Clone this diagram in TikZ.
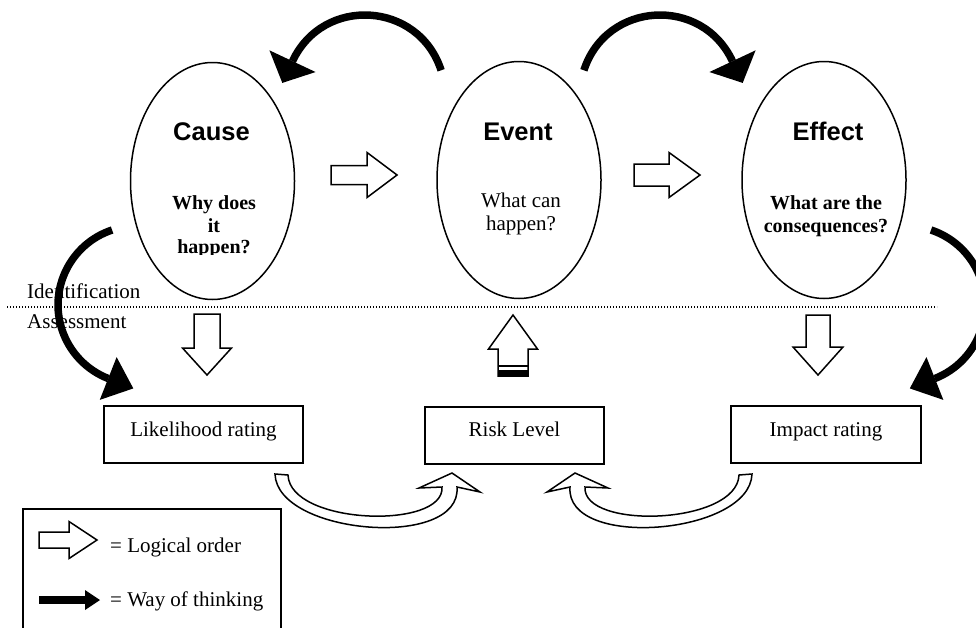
\documentclass[tikz,border=0pt]{standalone}
\usepackage{fontspec}
\setmainfont{Liberation Serif}
\newfontfamily\headsans{Liberation Sans}
\usetikzlibrary{arrows.meta,shapes.geometric}

\begin{document}
\begin{tikzpicture}[x=1pt,y=1pt,
  phase/.style={draw,line width=1.5pt,ellipse,minimum width=164pt,minimum height=237pt,inner sep=0pt},
  rating/.style={draw,line width=2pt,minimum height=57pt,inner sep=0pt},
  title/.style={font=\headsans\bfseries\fontsize{25.5}{30}\selectfont,anchor=base,inner sep=0pt},
  question/.style={font=\bfseries\fontsize{20}{23}\selectfont,anchor=base,inner sep=0pt},
  plain/.style={font=\fontsize{21}{25}\selectfont,anchor=base,inner sep=0pt},
  hollow/.style={draw,line width=1.5pt,fill=white,line join=miter},
  thinkarrow/.style 2 args={line width=7.5pt,-{Triangle[width=#1,length=#2,line width=0pt]}},
  divider/.style={line width=1.2pt,dash pattern=on 1.2pt off 1.8pt},
  pics/hollowarrow/.style n args={4}{code={
    \draw[hollow] (0,-#3) -- ({#1-#2},-#3) -- ({#1-#2},-#4) -- (#1,0)
      -- ({#1-#2},#4) -- ({#1-#2},#3) -- (0,#3) -- cycle;}}
]
\useasboundingbox (0,0) rectangle (976,-627);

% --- the three phases ---
\node[phase] (cause)  at (212.5,-181) {};
\node[phase] (event)  at (519,-180) {};
\node[phase] (effect) at (824,-180) {};

\node[title] (causeT)  at (211.5,-140) {Cause};
\node[title] (eventT)  at (518,-140) {Event};
\node[title] (effectT) at (828,-140) {Effect};

\node[question] (causeQ1) at (214,-209) {Why does};
\node[question] (causeQ2) at (214,-232) {it};
\begin{scope}
  \clip (150,-200) rectangle (280,-254);
  \node[question] (causeQ3) at (214,-253) {happen?};
\end{scope}

\node[plain] (eventQ1) at (521,-207) {What can};
\node[plain] (eventQ2) at (521,-230) {happen?};

\node[question] (effectQ1) at (826,-209) {What are the};
\node[question] (effectQ2) at (826,-232) {consequences?};

% --- identification / assessment divider ---
\coordinate (divL) at (7,-307);
\coordinate (divR) at (937,-307);
\draw[divider] (divL) -- (divR);
\node[plain,anchor=base west] (ident) at (27,-298) {Identification};
\node[plain,anchor=base west] (assess) at (27,-328) {Assessment};

% --- ratings ---
\node[rating,minimum width=199pt] (likely) at (203.5,-434.5) {};
\node[rating,minimum width=179pt] (risk)   at (514.5,-435) {};
\node[rating,minimum width=190pt] (impact) at (826,-434.5) {};
\node[plain] (likelyT) at (203.5,-436) {Likelihood rating};
\node[plain] (riskT)   at (514.5,-436) {Risk Level};
\node[plain] (impactT) at (826,-436) {Impact rating};

% --- logical order (hollow block arrows) ---
\pic at (331,-175) {hollowarrow={66}{30}{9.5}{22.5}};
\pic at (634,-175) {hollowarrow={66}{31}{11}{22.5}};
\pic[rotate=-90] at (207,-314) {hollowarrow={61}{27}{13}{24.5}};
\pic[rotate=-90] at (818,-315) {hollowarrow={60}{28}{12}{25}};
\pic[rotate=90] at (513,-376) {hollowarrow={61}{34}{15}{24.5}};
\draw[line width=1.5pt] (498,-366) -- (528,-366);
\fill (498,-376) rectangle (528,-370);

% curved block arrows from the ratings into the risk level
\draw[hollow] (275,-474) .. controls (277,-535) and (462,-550) .. (457,-487)
  -- (480,-492) -- (452,-473) -- (419,-488) -- (442,-487)
  .. controls (445,-530) and (290,-525) .. (288,-475) -- cycle;
\draw[hollow] (752,-474) .. controls (750,-535) and (565,-550) .. (570,-487)
  -- (547,-492) -- (575,-473) -- (608,-488) -- (585,-487)
  .. controls (582,-530) and (737,-525) .. (739,-475) -- cycle;

% --- way of thinking (bold curved arrows) ---
\coordinate (evL) at (441.1,-70.3);
\coordinate (evR) at (583.9,-70.3);
\coordinate (caL) at (112.1,-230);
\coordinate (efR) at (931,-230);
\draw[thinkarrow={51pt}{24pt}] (evL) .. controls (418.7,-1.2) and (323.2,4.6) .. (292.5,-61.2) -- ++(-10.2,-21.7);
\draw[thinkarrow={51pt}{24pt}] (evR) .. controls (606.3,-1.2) and (701.8,4.6) .. (732.5,-61.2) -- ++(10.2,-21.7);
\draw[thinkarrow={46pt}{27pt}] (caL) arc[start angle=108.4,end angle=248.6,radius=79] -- ++(25.1,-9.9);
\draw[thinkarrow={46pt}{27pt}] (efR) arc[start angle=71.6,end angle=-68.6,radius=79] -- ++(-25.1,-9.9);

% --- legend ---
\draw[line width=2pt] (23,-640) -- (23,-509) -- (281,-509) -- (281,-640);
\pic at (39,-540) {hollowarrow={58}{28}{8}{18.5}};
\node[plain,anchor=base west] (legLogic) at (110,-552) {= Logical order};
\coordinate (legA) at (39,-600);
\coordinate (legB) at (100,-600);
\draw[thinkarrow={20pt}{15pt}] (legA) -- (legB);
\node[plain,anchor=base west] (legThink) at (110,-606) {= Way of thinking};
\end{tikzpicture}
\end{document}
